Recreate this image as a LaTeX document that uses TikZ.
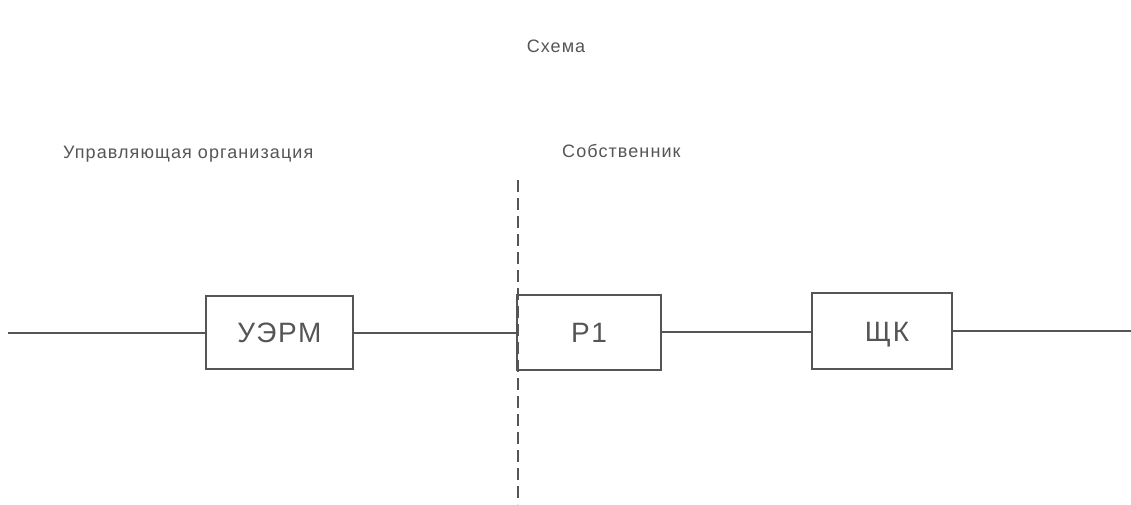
\documentclass[tikz,border=0pt]{standalone}
\usepackage{fontspec}
\setmainfont{Liberation Sans}
\newfontfamily\lblfont[LetterSpace=6]{Liberation Sans}
\newfontfamily\blkfont[LetterSpace=6]{Liberation Sans}
\definecolor{ink}{HTML}{555555}
\begin{document}
\begin{tikzpicture}[x=1pt,y=-1pt,
  blk/.style={draw=ink,line width=1.1pt,minimum width=147pt,minimum height=73pt,inner sep=0pt,text=ink,font=\blkfont\fontsize{28}{30}\selectfont},
  lbl/.style={text=ink,font=\lblfont\fontsize{18}{20}\selectfont,inner sep=0pt},
  wire/.style={draw=ink,line width=1.1pt},
  sep/.style={draw=ink,line width=1.1pt,dash pattern=on 12pt off 6pt}]
\useasboundingbox (0,0) rectangle (1131,504);
\node[lbl] (title) at (556,46) {Схема};
\node[lbl,anchor=base west] (uo) at (63,158) {Управляющая организация};
\node[lbl,anchor=base west] (own) at (562,157) {Собственник};
\node[blk] (uerm) at (279.5,332.5) {УЭРМ};
\node[blk,minimum width=144pt,minimum height=75pt] (p1) at (589,332.5) {P1};
\node[blk,minimum width=140pt,minimum height=76pt,text height=20pt,text depth=0pt] (shk) at (882,331) {\hspace*{10pt}ЩК};
\coordinate (lin) at (8,333);
\coordinate (rout) at (1131,331);
\coordinate (stop) at (518,180);
\coordinate (sbot) at (518,504);
\draw[sep] (stop) -- (sbot);
\draw[wire] (lin) -- (lin -| uerm.west);
\draw[wire] (uerm.east |- lin) -- (lin -| p1.west);
\draw[wire] (p1.east |- 0,332) -- (shk.west |- 0,332);
\draw[wire] (shk.east |- rout) -- (rout);
\end{tikzpicture}
\end{document}
